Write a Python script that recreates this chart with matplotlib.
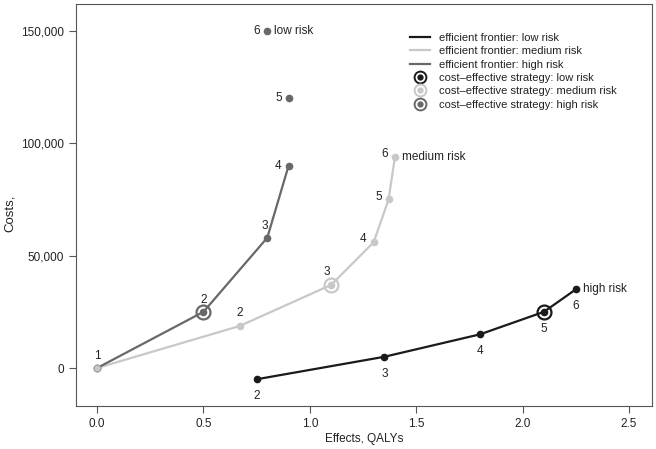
import matplotlib.pyplot as plt
from matplotlib.lines import Line2D
from matplotlib.ticker import FuncFormatter

plt.rcParams['font.family'] = ['Liberation Sans', 'DejaVu Sans']

# strategies 1..6 for each group (x = QALYs, y = costs)
ids = [1, 2, 3, 4, 5, 6]

low_x = [0.75, 1.35, 1.8, 2.1, 2.25]
low_y = [-5000, 5000, 15000, 25000, 35000]
low_ids = [2, 3, 4, 5, 6]

med_x = [0.0, 0.67, 1.1, 1.3, 1.37, 1.4]
med_y = [0, 18700, 37000, 56000, 75000, 94000]

high_x = [0.0, 0.5, 0.8, 0.9, 0.9, 0.8]
high_y = [0, 25000, 58000, 90000, 120000, 150000]
high_front = 4  # first 4 points on the frontier

ce_low = (2.1, 25000)
ce_med = (1.1, 37000)
ce_high = (0.5, 25000)

c_low = '#1a1a1a'
c_med = '#c8c8c8'
c_high = '#686868'

fig = plt.figure(figsize=(6.56, 4.49), dpi=100)
ax = fig.add_axes([76/656, 1-406/449, 576/656, 402/449])

ms = 4.5
ax.plot(low_x, low_y, '-o', color=c_low, lw=1.6, ms=ms)
ax.plot(med_x, med_y, '-o', color=c_med, lw=1.6, ms=ms)
ax.plot(high_x[:high_front], high_y[:high_front], '-o', color=c_high, lw=1.6, ms=ms)
ax.plot(high_x[high_front:], high_y[high_front:], 'o', color=c_high, ms=ms)
ax.plot([med_x[0]], [med_y[0]], 'o', color=c_med, mec='#999999', mew=0.6, ms=ms+0.5)

# cost-effective rings
for (px, py), c in [(ce_low, c_low), (ce_med, c_med), (ce_high, c_high)]:
    ax.plot(px, py, 'o', mfc='none', mec=c, mew=1.6, ms=10)

fs = 8.5
tc = '#222222'
# labels low-risk frontier (below points)
for x, y, i in zip(low_x, low_y, low_ids):
    ax.annotate(str(i), (x, y), xytext=(0, -8), textcoords='offset points',
                ha='center', va='top', fontsize=fs, color=tc)
ax.annotate('high risk', (low_x[-1], low_y[-1]), xytext=(5, 0), textcoords='offset points',
            ha='left', va='center', fontsize=fs, color=tc)

# labels medium
ax.annotate('2', (med_x[1], med_y[1]), xytext=(0, 5), textcoords='offset points',
            ha='center', va='bottom', fontsize=fs, color=tc)
ax.annotate('3', (med_x[2], med_y[2]), xytext=(-3, 5), textcoords='offset points',
            ha='center', va='bottom', fontsize=fs, color=tc)
for k in [3, 4, 5]:
    ax.annotate(str(ids[k]), (med_x[k], med_y[k]), xytext=(-5, 2), textcoords='offset points',
                ha='right', va='center', fontsize=fs, color=tc)
ax.annotate('medium risk', (med_x[-1], med_y[-1]), xytext=(5, 0), textcoords='offset points',
            ha='left', va='center', fontsize=fs, color=tc)

# labels high
ax.annotate('1', (high_x[0], high_y[0]), xytext=(0, 4), textcoords='offset points',
            ha='center', va='bottom', fontsize=fs, color=tc)
ax.annotate('2', (high_x[1], high_y[1]), xytext=(0, 4), textcoords='offset points',
            ha='center', va='bottom', fontsize=fs, color=tc)
ax.annotate('3', (high_x[2], high_y[2]), xytext=(-2, 4), textcoords='offset points',
            ha='center', va='bottom', fontsize=fs, color=tc)
for k in [3, 4, 5]:
    ax.annotate(str(ids[k]), (high_x[k], high_y[k]), xytext=(-5, 0), textcoords='offset points',
                ha='right', va='center', fontsize=fs, color=tc)
ax.annotate('low risk', (high_x[-1], high_y[-1]), xytext=(5, 0), textcoords='offset points',
            ha='left', va='center', fontsize=fs, color=tc)

ax.set_xlim(-0.099, 2.608)
ax.set_ylim(-16900, 162000)
ax.set_xticks([0, 0.5, 1.0, 1.5, 2.0, 2.5])
ax.set_xticklabels(['0.0', '0.5', '1.0', '1.5', '2.0', '2.5'])
ax.set_yticks([0, 50000, 100000, 150000])
ax.yaxis.set_major_formatter(FuncFormatter(lambda v, p: f'{int(v):,}'))
ax.tick_params(direction='out', length=5, width=0.8, color='#555555',
               labelsize=8.5, labelcolor=tc, pad=3.5)
for s in ax.spines.values():
    s.set_color('#555555')
    s.set_linewidth(0.8)

ax.set_xlabel('Effects, QALYs', fontsize=8.5, color=tc, labelpad=2)
fig.text(10/656, 1-213/449, 'Costs,', rotation=90, ha='center', va='center',
         fontsize=9.5, color=tc)

handles = [
    Line2D([], [], color=c_low, lw=1.6),
    Line2D([], [], color=c_med, lw=1.6),
    Line2D([], [], color=c_high, lw=1.6),
    (Line2D([], [], marker='o', ls='', mfc='none', mec=c_low, mew=1.4, ms=8.5),
     Line2D([], [], marker='o', ls='', color=c_low, ms=3.5)),
    (Line2D([], [], marker='o', ls='', mfc='none', mec=c_med, mew=1.4, ms=8.5),
     Line2D([], [], marker='o', ls='', color=c_med, ms=3.5)),
    (Line2D([], [], marker='o', ls='', mfc='none', mec=c_high, mew=1.4, ms=8.5),
     Line2D([], [], marker='o', ls='', color=c_high, ms=3.5)),
]
labels = ['efficient frontier: low risk', 'efficient frontier: medium risk',
          'efficient frontier: high risk', 'cost\u2013effective strategy: low risk',
          'cost\u2013effective strategy: medium risk', 'cost\u2013effective strategy: high risk']
leg = ax.legend(handles, labels, loc='upper left', bbox_to_anchor=(410/656, 1-33/449),
                bbox_transform=fig.transFigure, frameon=False, fontsize=8,
                handlelength=1.8, handletextpad=0.8, labelspacing=0.3,
                borderaxespad=0, borderpad=0)
for t in leg.get_texts():
    t.set_color(tc)

fig.savefig('out.png', dpi=100)
